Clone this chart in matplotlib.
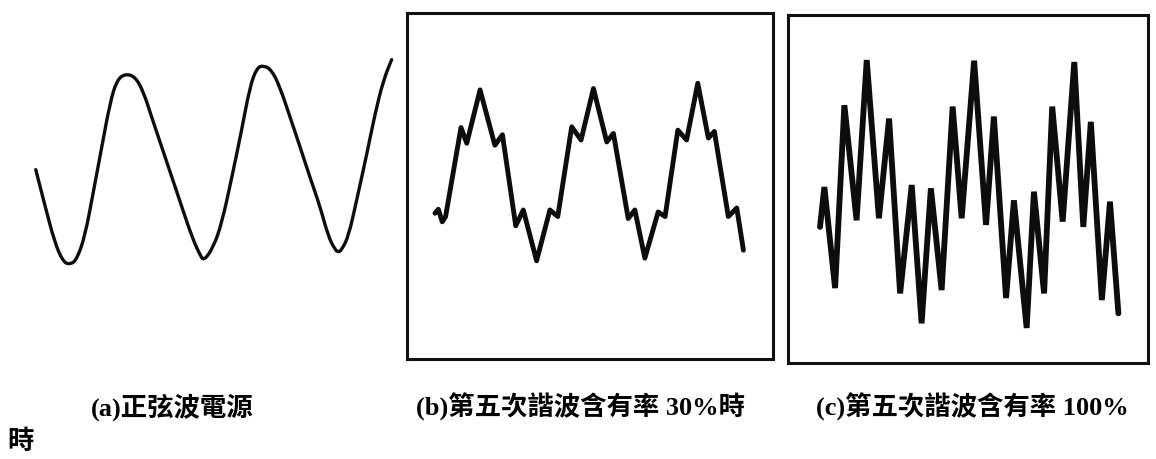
import matplotlib
matplotlib.use("Agg")
import matplotlib.pyplot as plt
from matplotlib.path import Path
from matplotlib.patches import PathPatch

W, H = 1156, 459

# (a) sinusoidal supply: electrical angle (deg) and per-unit voltage
a_t = [2, 27, 53, 75, 93, 111, 133, 155, 178, 200, 218, 240, 267, 289, 311, 338,
       365, 391, 418, 440, 451, 476, 498, 525, 551, 573, 591, 609, 631, 653, 680,
       707, 733, 760, 782, 800, 809, 818, 836, 858, 885, 907, 929, 951]
a_v = [-0.06, -0.45, -0.84, -1.04, -1.07, -1.02, -0.77, -0.31, 0.18, 0.65, 0.89,
       0.96, 0.93, 0.77, 0.50, 0.18, -0.14, -0.45, -0.77, -0.97, -1.03, -0.88,
       -0.63, -0.14, 0.36, 0.82, 1.02, 1.05, 1.00, 0.82, 0.50, 0.18, -0.14, -0.45,
       -0.77, -0.91, -0.94, -0.91, -0.77, -0.38, 0.11, 0.54, 0.89, 1.11]

# (b) 30 % fifth-harmonic content
b_t = [0, 11, 24, 35, 86, 105, 149, 198, 223, 267, 292, 336, 380, 406, 452, 483,
       524, 568, 590, 639, 661, 694, 738, 761, 803, 832, 869, 904, 924, 970, 998,
       1020]
b_v = [-0.61, -0.55, -0.74, -0.66, 0.69, 0.45, 1.26, 0.42, 0.58, -0.80, -0.56,
       -1.33, -0.56, -0.66, 0.70, 0.50, 1.28, 0.47, 0.60, -0.69, -0.56, -1.29,
       -0.59, -0.66, 0.65, 0.50, 1.36, 0.53, 0.63, -0.66, -0.53, -1.17]

# (c) 100 % fifth-harmonic content
c_t = [0, 15, 52, 84, 126, 161, 203, 238, 276, 316, 350, 382, 419, 457, 488, 531,
       572, 599, 641, 668, 712, 737, 772, 800, 836, 876, 907, 933, 971, 999, 1028]
c_v = [-0.51, 0.09, -1.43, 1.32, -0.41, 2.00, -0.38, 1.12, -1.51, 0.12, -1.96,
       0.07, -1.46, 1.30, -0.38, 1.99, -0.48, 1.15, -1.58, -0.11, -2.03, 0.02,
       -1.51, 1.30, -0.43, 1.97, -0.51, 1.07, -1.61, -0.13, -1.81]

captions = ["(a)正弦波電源", "(b)第五次諧波含有率 30%時", "(c)第五次諧波含有率 100%"]
caption_tail = "時"

fig = plt.figure(figsize=(W / 100, H / 100), dpi=100)
fig.patch.set_facecolor("white")
INK = "#0d0d0d"


def panel(left, top, right, bottom, xlim, ylim, framed):
    ax = fig.add_axes([left / W, 1 - bottom / H, (right - left) / W, (bottom - top) / H])
    ax.set_xlim(*xlim)
    ax.set_ylim(*ylim)
    ax.set_xticks([])
    ax.set_yticks([])
    ax.patch.set_alpha(0)
    for s in ax.spines.values():
        s.set_visible(framed)
        s.set_linewidth(2.2)
        s.set_color("#111111")
    return ax


def smooth_trace(ax, xs, ys, **kw):
    """Draw a rounded trace: each sample is a quadratic control point."""
    verts = [(xs[0], ys[0])]
    codes = [Path.MOVETO]
    for i in range(1, len(xs) - 1):
        mx = (xs[i] + xs[i + 1]) / 2
        my = (ys[i] + ys[i + 1]) / 2
        verts += [(xs[i], ys[i]), (mx, my)]
        codes += [Path.CURVE3, Path.CURVE3]
    verts.append((xs[-1], ys[-1]))
    codes.append(Path.LINETO)
    ax.add_patch(PathPatch(Path(verts, codes), fill=False, capstyle="round",
                           joinstyle="round", **kw))


ax_a = panel(20, 40, 400, 290, (-40, 973.3), (-1.340, 1.319), False)
smooth_trace(ax_a, a_t, a_v, edgecolor=INK, lw=2.4)

ax_b = panel(406.7, 12.7, 772.7, 359.3, (-93.6, 1116.8), (-2.823, 2.429), True)
ax_b.plot(b_t, b_v, color=INK, lw=3.5, solid_joinstyle="round",
          solid_capstyle="round")

ax_c = panel(788.3, 15, 1148.3, 363.3, (-109.2, 1131.0), (-2.561, 2.677), True)
ax_c.plot(c_t, c_v, color=INK, lw=4.2, solid_joinstyle="miter",
          solid_capstyle="round")

font = dict(family=["Liberation Serif", "Noto Sans CJK TC"], weight="bold",
            fontsize=19, color="black")
for x0, txt in zip([91, 416, 816], captions):
    fig.text(x0 / W, 1 - 407 / H, txt, ha="left", va="center", **font)
fig.text(7 / W, 1 - 442 / H, caption_tail, ha="left", va="center", **font)

fig.savefig("out.png", dpi=100, facecolor="white")
